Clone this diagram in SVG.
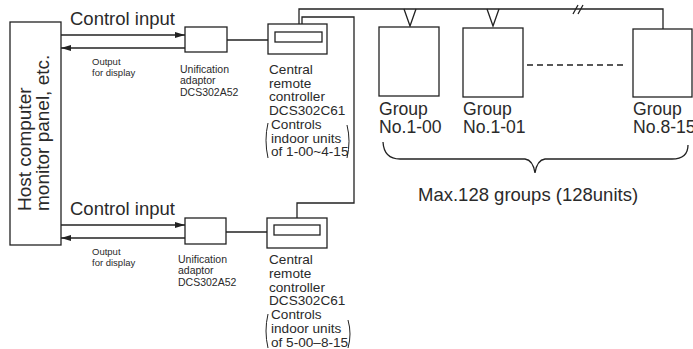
<svg xmlns="http://www.w3.org/2000/svg" width="693" height="349" viewBox="0 0 693 349">
<style>
.ln{fill:none;stroke:#222;stroke-width:1.3}
.bx{fill:#fff;stroke:#222;stroke-width:1.3}
text{font-family:"Liberation Sans",Arial,sans-serif;fill:#2a2a2a}
.lg{font-size:18.5px}
.hs{font-size:19px}
.gp{font-size:17.6px}
.md{font-size:13.6px}
.sm{font-size:10.5px}
.xs{font-size:9.5px}
</style>
<defs>
<marker id="ah" viewBox="0 0 10 6" refX="10" refY="3" markerWidth="10" markerHeight="6" markerUnits="userSpaceOnUse" orient="auto">
<path d="M0,0 L10,3 L0,6 z" fill="#222"/>
</marker>
</defs>
<rect width="693" height="349" fill="#fff"/>
<g id="connectors">
<line class="ln" x1="61" y1="35" x2="185" y2="35" marker-end="url(#ah)"/>
<line class="ln" x1="185" y1="48" x2="61" y2="48" marker-end="url(#ah)"/>
<line class="ln" x1="227" y1="40" x2="268" y2="40"/>
<line class="ln" x1="61" y1="225" x2="185" y2="225" marker-end="url(#ah)"/>
<line class="ln" x1="185" y1="238" x2="61" y2="238" marker-end="url(#ah)"/>
<line class="ln" x1="226" y1="232" x2="267" y2="232"/>
<polyline class="ln" points="299,24 299,9 663,9 663,29"/>
<polyline class="ln" points="302,24 302,17 354,17 354,203 297,203 297,218"/>
<path class="ln" d="M404,9 L410,26 L416,9 M487,9 L493,26 L499,9"/>
<path class="ln" d="M573,14 L578,5 M578,14 L583,5"/>
<line class="ln" x1="527" y1="65" x2="625" y2="65" stroke-dasharray="6,4"/>
</g>
<g id="host">
<rect class="bx" x="10" y="22" width="51" height="223"/>
<text class="hs" transform="translate(31,211) rotate(-90)">Host computer</text>
<text class="hs" transform="translate(49,211) rotate(-90)">monitor panel, etc.</text>
</g>
<g id="labels-top">
<text class="lg" x="70" y="25">Control input</text>
<text class="xs" x="92" y="65">Output</text>
<text class="xs" x="92" y="76">for display</text>
</g>
<g id="adaptor1">
<rect class="bx" x="185" y="27" width="42" height="25"/>
<text class="sm" x="180" y="73">Unification</text>
<text class="sm" x="180" y="84">adaptor</text>
<text class="sm" x="180" y="96">DCS302A52</text>
</g>
<g id="remote1">
<rect class="bx" x="268" y="24" width="59" height="30"/>
<rect class="bx" x="275" y="32" width="47" height="10"/>
<text class="md" x="269" y="74">Central</text>
<text class="md" x="269" y="87.7">remote</text>
<text class="md" x="269" y="101.4">controller</text>
<text class="md" x="269" y="115.1">DCS302C61</text>
<text class="md" x="271" y="128.8">Controls</text>
<text class="md" x="271" y="142.5">indoor units</text>
<text class="md" x="271" y="156.2">of 1-00~4-15</text>
<path class="ln" d="M268,123 Q264,140 268,158" style="stroke-width:1"/>
<path class="ln" d="M347,125 Q351,141 347,158" style="stroke-width:1"/>
</g>
<g id="labels-bottom">
<text class="lg" x="70" y="215">Control input</text>
<text class="xs" x="92" y="255">Output</text>
<text class="xs" x="92" y="266">for display</text>
</g>
<g id="adaptor2">
<rect class="bx" x="185" y="218" width="41" height="26"/>
<text class="sm" x="178" y="263">Unification</text>
<text class="sm" x="178" y="274">adaptor</text>
<text class="sm" x="178" y="286">DCS302A52</text>
</g>
<g id="remote2">
<rect class="bx" x="267" y="218" width="60" height="30"/>
<rect class="bx" x="274" y="225" width="46" height="10"/>
<text class="md" x="269" y="264">Central</text>
<text class="md" x="269" y="277.8">remote</text>
<text class="md" x="269" y="291.6">controller</text>
<text class="md" x="269" y="305.4">DCS302C61</text>
<text class="md" x="271" y="319.2">Controls</text>
<text class="md" x="271" y="333">indoor units</text>
<text class="md" x="271" y="346.8">of 5-00–8-15</text>
<path class="ln" d="M268,314 Q264,331 268,348" style="stroke-width:1"/>
<path class="ln" d="M348,320 Q352,334 348,348" style="stroke-width:1"/>
</g>
<g id="group1">
<rect class="bx" x="379" y="27" width="60" height="69"/>
<text class="gp" x="379" y="115">Group</text>
<text class="gp" x="379" y="133">No.1-00</text>
</g>
<g id="group2">
<rect class="bx" x="463" y="28" width="60" height="69"/>
<text class="gp" x="463" y="115">Group</text>
<text class="gp" x="463" y="133">No.1-01</text>
</g>
<g id="group3">
<rect class="bx" x="633" y="29" width="59" height="68"/>
<text class="gp" x="633" y="115">Group</text>
<text class="gp" x="633" y="133">No.8-15</text>
</g>
<g id="brace">
<path class="ln" d="M383,142 Q384,159 400,159 L525,159 Q533,160 535,173 Q537,160 545,159 L672,159 Q688,159 688,145"/>
<text class="lg" x="418" y="201">Max.128 groups (128units)</text>
</g>
</svg>
